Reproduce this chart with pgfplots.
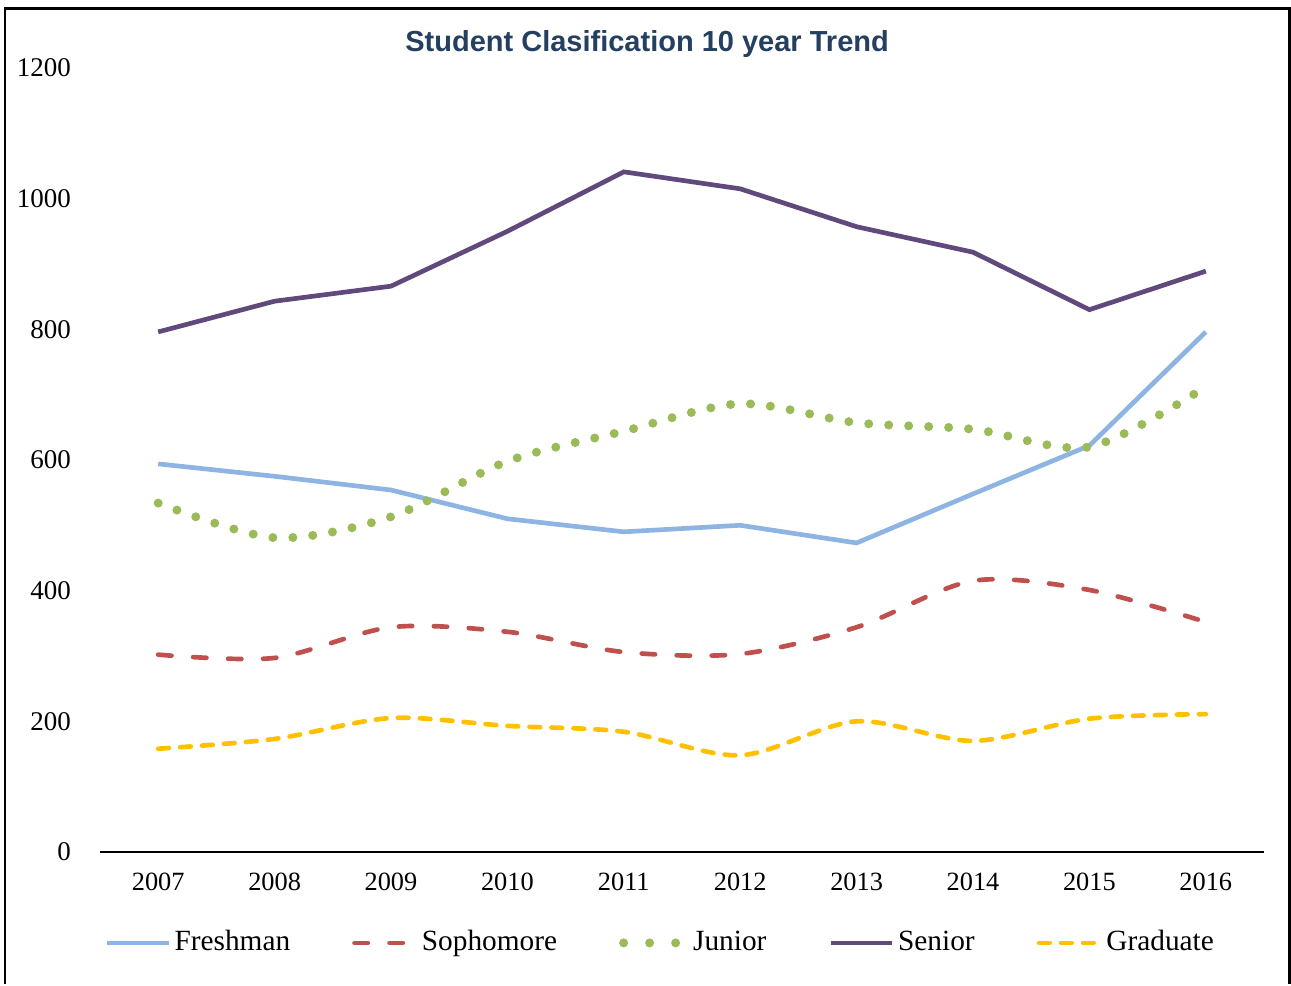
\documentclass[border=0pt]{standalone}
\usepackage{pgfplots}
\pgfplotsset{compat=1.18}
\usepackage{fontspec}
\setmainfont{Liberation Serif}
\newfontfamily\titlefont{Liberation Sans}

\definecolor{cFresh}{HTML}{8DB4E2}
\definecolor{cSoph}{HTML}{C0504D}
\definecolor{cJun}{HTML}{9BBB59}
\definecolor{cSen}{HTML}{604A7B}
\definecolor{cGrad}{HTML}{FFC000}
\definecolor{cTitle}{HTML}{243F60}

% Junior legend: three wider-spaced dots
\pgfplotsset{junleg/.style={legend image code/.code={%
    \draw[##1, dash pattern=on 0pt off 7.8pt] (0.5pt,0pt) -- (19pt,0pt);}}}

\begin{document}
\begin{tikzpicture}
\begin{axis}[
    width=349.2pt, height=235.2pt, scale only axis,
    xmin=-0.5, xmax=9.5, ymin=0, ymax=1200,
    axis x line*=bottom, axis y line*=left,
    y axis line style={draw=none},
    x axis line style={line width=0.6pt, -},
    xtick={0,...,9},
    xticklabels={2007,2008,2009,2010,2011,2012,2013,2014,2015,2016},
    ytick={0,200,...,1200},
    major tick length=0pt,
    /pgf/number format/assume math mode=true,
    /pgf/number format/1000 sep={},
    xticklabel style={font=\fontsize{7.9}{9}\selectfont, yshift=-2.8pt},
    yticklabel style={font=\fontsize{8.1}{9}\selectfont, anchor=east, xshift=-5.2pt},
    clip=false,
    legend columns=5,
    legend style={draw=none, fill=none, at={(rel axis cs:0.482,-0.116)}, anchor=center,
        font=\fontsize{8.8}{10}\selectfont,
        nodes={inner xsep=1pt},
        /tikz/every even column/.append style={column sep=17.6pt}},
    legend cell align=left,
    legend image code/.code={\draw[#1] (0.5pt,0pt) -- (19pt,0pt);},
]
\addplot[cFresh, line width=1.4pt] coordinates {
(0,594) (1,575) (2,554) (3,510) (4,490) (5,500) (6,473) (7,548) (8,622) (9,796)};
\addlegendentry{Freshman}
\addplot[cSoph, line width=1.4pt, line cap=round, smooth, dash pattern=on 4pt off 6.5pt] coordinates {
(0,302) (1,297) (2,344) (3,337) (4,306) (5,303) (6,344) (7,415) (8,401) (9,352)};
\addlegendentry{Sophomore}
\addplot[cJun, line width=2.7pt, line cap=round, smooth, dash pattern=on 0pt off 6pt, junleg] coordinates {
(0,534) (1,481) (2,513) (3,598) (4,644) (5,686) (6,657) (7,647) (8,620) (9,712)};
\addlegendentry{Junior}
\addplot[cSen, line width=1.4pt] coordinates {
(0,796) (1,843) (2,866) (3,950) (4,1041) (5,1015) (6,957) (7,918) (8,830) (9,889)};
\addlegendentry{Senior}
\addplot[cGrad, line width=1.4pt, line cap=round, smooth, dash pattern=on 3.2pt off 3.4pt] coordinates {
(0,158) (1,173) (2,205) (3,193) (4,184) (5,148) (6,200) (7,170) (8,204) (9,211)};
\addlegendentry{Graduate}

\node[font=\titlefont\bfseries\fontsize{8.7}{10}\selectfont, text=cTitle]
    at (rel axis cs:0.47,1.0306) {Student Clasification 10 year Trend};
\path (rel axis cs:-0.0859,-0.1684) rectangle (rel axis cs:1.0232,1.0867);
\draw[line width=0.7pt] (rel axis cs:-0.0816,-0.1684) -- (rel axis cs:-0.0816,1.0759)
    -- (rel axis cs:1.0219,1.0759) -- (rel axis cs:1.0219,-0.1684);
\end{axis}
\end{tikzpicture}
\end{document}
